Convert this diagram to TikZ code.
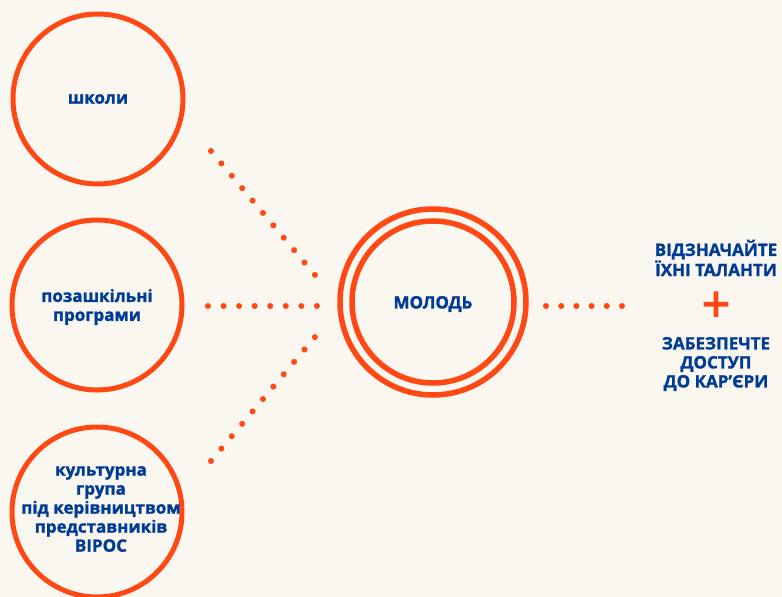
\documentclass[tikz,border=0pt]{standalone}
\usepackage{fontspec}
\setmainfont{Open Sans}[BoldFeatures={FakeBold=1.4}]
\newfontfamily\plusfont{Open Sans}[FakeBold=2.5]
\definecolor{bg}{RGB}{250,247,241}
\definecolor{orng}{RGB}{255,72,20}
\definecolor{navy}{RGB}{0,59,148}
\begin{document}
\begin{tikzpicture}[x=1pt,y=-1pt,
  ring/.style={circle,draw=orng,line width=5pt,minimum size=170pt,inner sep=0pt},
  lbl/.style={text=navy,font=\bfseries\fontsize{17}{19}\selectfont,align=center},
  dotline/.style={draw=orng,line width=6pt,line cap=round,dash pattern=on 0pt off #1},
]
\fill[bg] (0,0) rectangle (782,597);
\useasboundingbox (0,0) rectangle (782,597);
\node[ring] (c1) at (98,99) {};
\node[lbl] (t1) at (98,99) {школи};
\node[ring] (c2) at (97,305) {};
\node[lbl] (t2) at (97,307) {позашкільні\\програми};
\node[ring] (c3) at (97,512) {};
\node[lbl] (t3) at (101,509) {культурна\\група\\під керівництвом\\представників\\ВІРОС};
\node[circle,draw=orng,line width=5.5pt,minimum size=186pt,inner sep=0pt] (mo) at (433,302) {};
\node[circle,draw=orng,line width=5.5pt,minimum size=162pt,inner sep=0pt] (mi) at (433,302) {};
\node[lbl] (mt) at (433,304) {МОЛОДЬ};
\coordinate (a1) at (211,151);
\coordinate (a2) at (315,275);
\coordinate (b1) at (208,306);
\coordinate (b2) at (317,306);
\coordinate (d1) at (211,461);
\coordinate (d2) at (315,337);
\coordinate (e1) at (546,306);
\coordinate (e2) at (622,306);
\draw[dotline=16.17pt] (a1) -- (a2);
\draw[dotline=15.56pt] (b1) -- (b2);
\draw[dotline=16.17pt] (d1) -- (d2);
\draw[dotline=15.19pt] (e1) -- (e2);
\node[lbl] (r1) at (716,258) {ВІДЗНАЧАЙТЕ\\ЇХНІ ТАЛАНТИ};
\node[text=orng,font=\plusfont\fontsize{50}{50}\selectfont,inner sep=0pt] (plus) at (716,307) {+};
\node[lbl] (r2) at (716,364) {ЗАБЕЗПЕЧТЕ\\ДОСТУП\\ДО КАР’ЄРИ};
\end{tikzpicture}
\end{document}
